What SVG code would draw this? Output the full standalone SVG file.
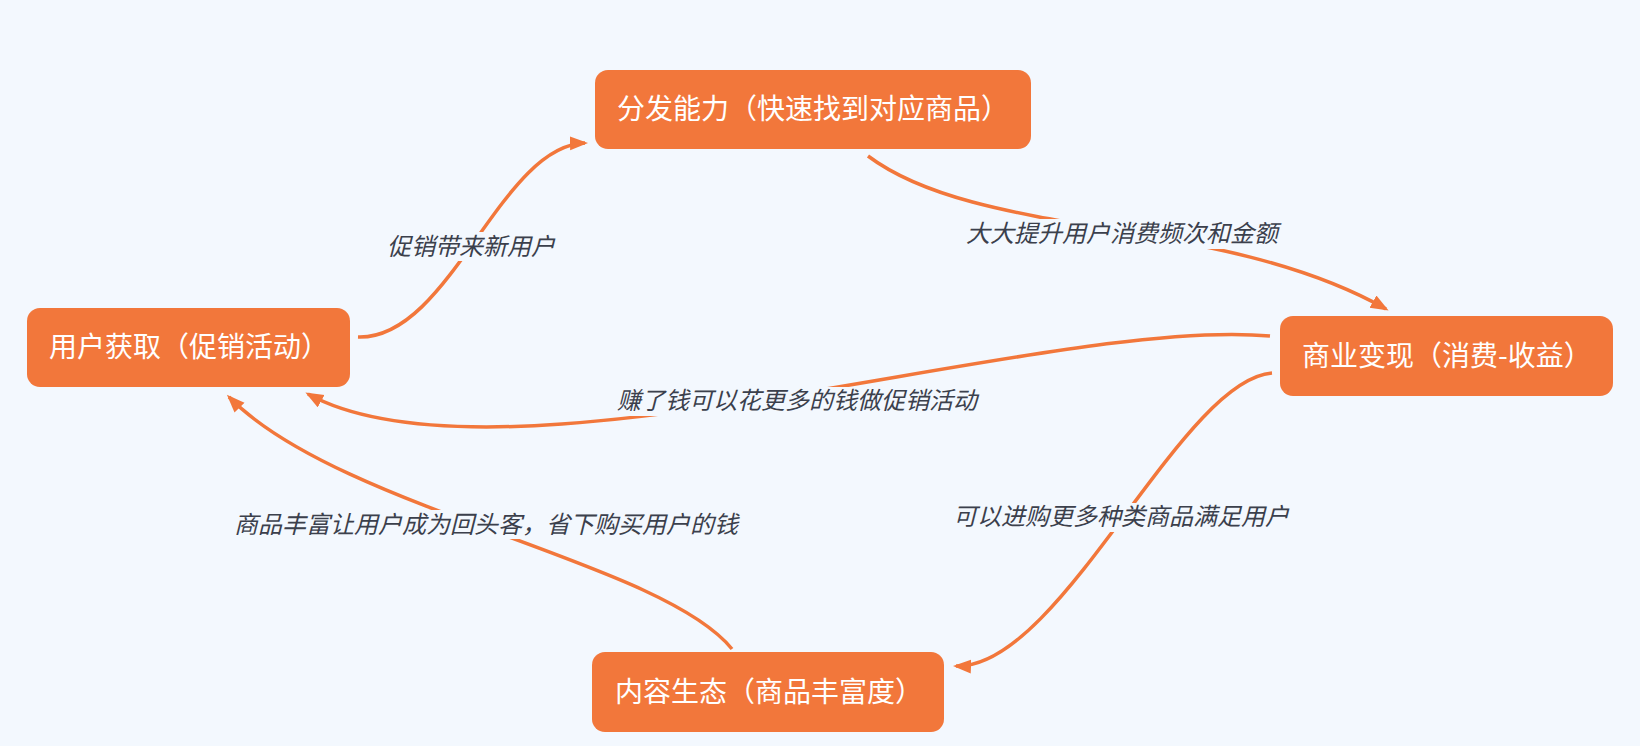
<svg xmlns="http://www.w3.org/2000/svg" width="1640" height="746" viewBox="0 0 1640 746">
<style>
.node rect{fill:#F2773B;}
.node text{fill:#FFFFFF;font-family:"Noto Sans CJK SC","Noto Sans",sans-serif;font-size:28px;}
.edge path{fill:none;stroke:#F2773B;stroke-width:3.5;marker-end:url(#arr);}
.lbl rect{fill:#F3F8FE;}
.lbl text{fill:#3B404C;font-family:"Noto Sans CJK SC","Noto Sans",sans-serif;font-size:24px;font-style:italic;text-anchor:middle;}
</style>
<defs>
<marker id="arr" markerUnits="userSpaceOnUse" markerWidth="20" markerHeight="16" refX="15" refY="7" orient="auto">
<path d="M0,0 L18,7 L0,14 z" fill="#F2773B"/>
</marker>
</defs>
<rect x="0" y="0" width="1640" height="746" fill="#F3F8FE"/>
<g id="connectors">
<g class="edge">
<path d="M358,337 C450,340 500,145 585,143"/>
<path d="M868,156 C980,240 1220,215 1386,309"/>
<path d="M1270,336 C1050,315 500,500 308,394"/>
<path d="M1272,373 C1180,380 1060,670 956,666"/>
<path d="M732,649 C660,560 340,510 229,397"/>
</g>
<g class="lbl">
<rect x="384" y="232" width="174" height="29"/>
<text x="471" y="255">促销带来新用户</text>
<rect x="963" y="219" width="319" height="30"/>
<text x="1122" y="242">大大提升用户消费频次和金额</text>
<rect x="613" y="387" width="369" height="29"/>
<text x="797" y="409">赚了钱可以花更多的钱做促销活动</text>
<rect x="951" y="503" width="340" height="29"/>
<text x="1121" y="525">可以进购更多种类商品满足用户</text>
<rect x="231" y="510" width="510" height="29"/>
<text x="486" y="533">商品丰富让用户成为回头客，省下购买用户的钱</text>
</g>
</g>
<g id="node-distribution" class="node">
<rect x="595" y="70" width="436" height="79" rx="13"/>
<text x="617" y="119">分发能力（快速找到对应商品）</text>
</g>
<g id="node-acquisition" class="node">
<rect x="27" y="308" width="323" height="79" rx="13"/>
<text x="49" y="357">用户获取（促销活动）</text>
</g>
<g id="node-monetization" class="node">
<rect x="1280" y="316" width="333" height="80" rx="13"/>
<text x="1302" y="366">商业变现（消费-收益）</text>
</g>
<g id="node-content" class="node">
<rect x="592" y="652" width="352" height="80" rx="13"/>
<text x="615" y="702">内容生态（商品丰富度）</text>
</g>
</svg>
